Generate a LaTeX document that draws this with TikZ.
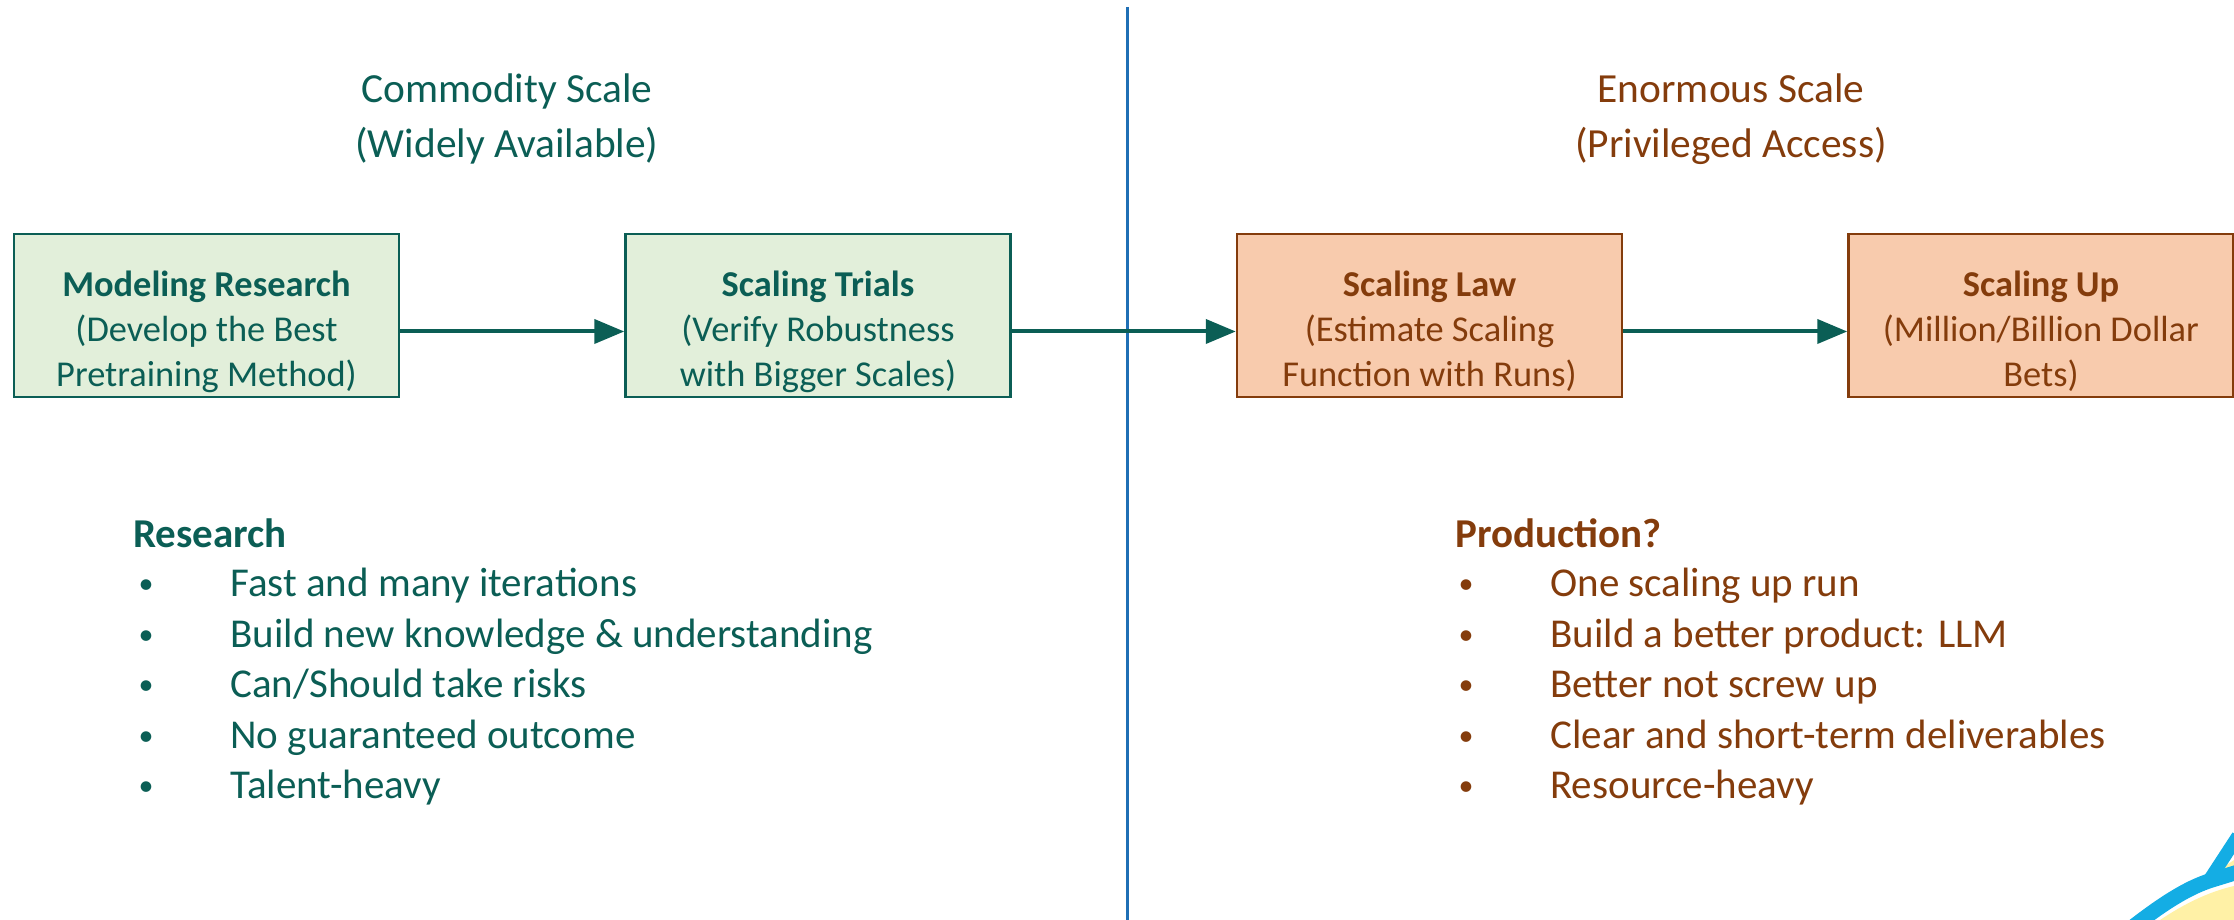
\documentclass[tikz,border=0pt]{standalone}
\usepackage{fontspec}
\setmainfont{Carlito}
\usetikzlibrary{arrows.meta,positioning}

\definecolor{deepteal}{HTML}{0B5E55}
\definecolor{palegreen}{HTML}{E2EFDA}
\definecolor{rust}{HTML}{843C0C}
\definecolor{peach}{HTML}{F8CBAD}
\definecolor{divider}{HTML}{1F6FB5}
\definecolor{skyblue}{HTML}{14ADE4}
\definecolor{sun}{HTML}{FFF1A6}

\begin{document}
\begin{tikzpicture}[x=1pt, y=1pt,
  node distance=5mm and 112pt,
  box/.style={rectangle, draw, line width=1.25pt, minimum width=192.5pt, minimum height=81.5pt, inner sep=0pt},
  greenbox/.style={box, draw=deepteal, fill=palegreen},
  orangebox/.style={box, draw=rust, fill=peach},
  boxtext/.style={align=center, inner sep=0pt, font=\fontsize{18.2}{22.5}\selectfont},
  head/.style={align=center, inner sep=0pt, font=\fontsize{20.7}{27.5}\selectfont},
  item/.style={anchor=base west, inner sep=0pt, font=\fontsize{20.5}{24}\selectfont},
  dot/.style={anchor=base, inner sep=0pt, font=\fontsize{15}{15}\selectfont, yshift=1.5pt},
  arr/.style={-{Triangle[length=15pt,width=12pt]}, line width=2pt, draw=deepteal}]
\useasboundingbox (0,0) rectangle (1117,460);

% the dividing line between the two regimes
\draw[divider, line width=1.5pt] (563.5,456.5) coordinate (divtop) -- (563.5,0) coordinate (divbot);

\node[head, text=deepteal] (commodity) at (253.5,400.5) {Commodity Scale\\(Widely Available)};
\node[head, text=rust] (enormous) at (865.5,400.5) {Enormous Scale\\(Privileged Access)};

% pipeline
\node[greenbox] (model) at (103.25,302.25) {};
\node[greenbox, right=of model] (trials) {};
\node[orangebox, right=of trials] (law) {};
\node[orangebox, right=of law] (up) {};
\node[boxtext, text=deepteal, yshift=-8pt] (modelT) at (model) {\textbf{Modeling Research}\\(Develop the Best\\Pretraining Method)};
\node[boxtext, text=deepteal, yshift=-8pt] (trialsT) at (trials) {\textbf{Scaling Trials}\\(Verify Robustness\\with Bigger Scales)};
\node[boxtext, text=rust, yshift=-8pt] (lawT) at (law) {\textbf{Scaling Law}\\(Estimate Scaling\\Function with Runs)};
\node[boxtext, text=rust, yshift=-8pt] (upT) at (up) {\textbf{Scaling Up}\\(Million/Billion Dollar\\Bets)};
\draw[arr] (modelT -| model.east) -- (modelT -| trials.west);
\draw[arr] (trialsT -| trials.east) -- (trialsT -| law.west);
\draw[arr] (lawT -| law.east) -- (lawT -| up.west);

% the two lists
\node[item, text=deepteal, font=\fontsize{20.5}{24}\selectfont\bfseries] (research) at (66.5,186) {Research};
\foreach \t [count=\i] in {Fast and many iterations, Build new knowledge \& understanding,
    Can/Should take risks, No guaranteed outcome, Talent-heavy} {
  \node[dot, text=deepteal] (rdot\i) at (73,186.75-25.25*\i) {•};
  \node[item, text=deepteal] (ritem\i) at (115,186.75-25.25*\i) {\t};
}
\node[item, text=rust, font=\fontsize{20.5}{24}\selectfont\bfseries] (production) at (727.5,186) {Production?};
\foreach \t [count=\i] in {One scaling up run, Build a better product: LLM,
    Better not screw up, Clear and short-term deliverables, Resource-heavy} {
  \node[dot, text=rust] (pdot\i) at (733,186.75-25.25*\i) {•};
  \node[item, text=rust] (pitem\i) at (775,186.75-25.25*\i) {\t};
}

% corner of the mascot
\fill[sun] (1080,0) .. controls (1092,8) and (1104,14) .. (1117,17) -- (1117,0) -- cycle;
\fill[sun] (1108,24) -- (1117,30) -- (1117,22) -- cycle;
\draw[skyblue, line width=7.5pt] (1067,-3) .. controls (1080,7) and (1093,16) .. (1106,20) -- (1119,24);
\draw[skyblue, line width=6.5pt] (1104,19) -- (1119,42);
\end{tikzpicture}
\end{document}
